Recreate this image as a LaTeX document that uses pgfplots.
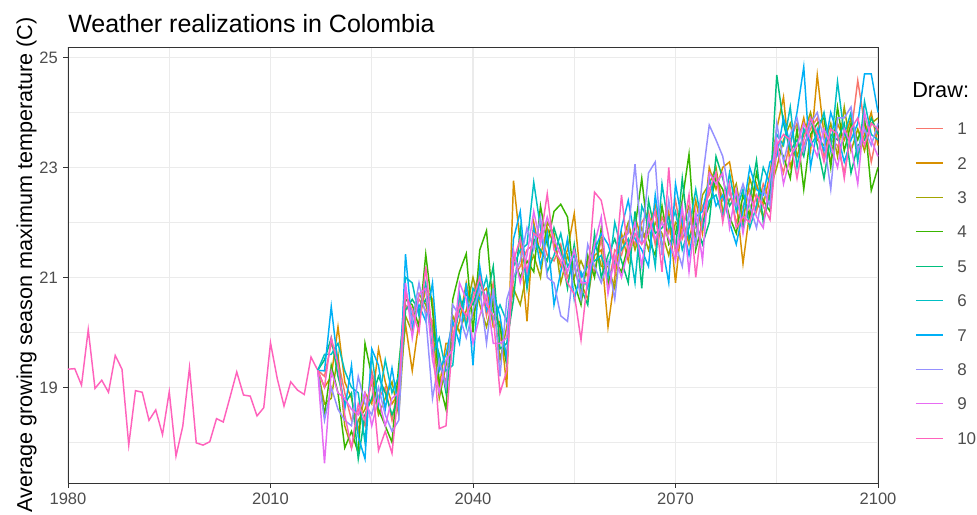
\documentclass[border=0pt]{standalone}
\usepackage{fontspec}
\setmainfont{Liberation Sans}
\usepackage{pgfplots}
\usepackage{pgfplotstable}
\pgfplotsset{compat=1.18}

% ggplot hue palette, 10 draws
\definecolor{c1}{HTML}{F8766D}
\definecolor{c2}{HTML}{D89000}
\definecolor{c3}{HTML}{A3A500}
\definecolor{c4}{HTML}{39B600}
\definecolor{c5}{HTML}{00BF7D}
\definecolor{c6}{HTML}{00BFC4}
\definecolor{c7}{HTML}{00B0F6}
\definecolor{c8}{HTML}{9590FF}
\definecolor{c9}{HTML}{E76BF3}
\definecolor{c10}{HTML}{FF62BC}
\definecolor{gridc}{HTML}{EBEBEB}
\definecolor{txtc}{HTML}{4D4D4D}
\definecolor{framec}{HTML}{333333}

% observed series
\pgfplotstableread{
year t
1980 19.33
1981 19.34
1982 19.04
1983 20.05
1984 18.98
1985 19.13
1986 18.91
1987 19.58
1988 19.33
1989 17.95
1990 18.94
1991 18.91
1992 18.40
1993 18.59
1994 18.14
1995 18.92
1996 17.75
1997 18.29
1998 19.36
1999 17.99
2000 17.95
2001 18.01
2002 18.43
2003 18.37
2004 18.82
2005 19.28
2006 18.86
2007 18.84
2008 18.48
2009 18.63
2010 19.81
2011 19.16
2012 18.66
2013 19.10
2014 18.95
2015 18.87
2016 19.55
2017 19.31
}\hist

% projected draws
\pgfplotstableread{
year d1 d2 d3 d4 d5 d6 d7 d8 d9 d10
2017 19.31 19.31 19.31 19.31 19.31 19.31 19.31 19.31 19.31 19.31
2018 19.2 19.0 18.7 18.5 19.5 19.6 19.3 18.4 17.62 19.0
2019 19.8 19.2 18.8 19.4 19.9 19.6 20.47 19.0 19.3 19.9
2020 19.5 20.1 19.6 18.9 19.2 19.8 19.4 18.6 18.9 19.4
2021 18.9 19.1 18.3 17.9 18.7 19.3 18.6 18.4 18.8 18.5
2022 18.4 18.8 17.9 18.2 18.9 19.0 19.4 18.3 18.6 17.9
2023 18.6 18.2 18.4 17.8 17.7 18.9 18.1 19.2 18.5 18.7
2024 18.3 18.9 18.6 19.8 18.5 18.0 17.7 18.7 18.9 18.4
2025 19.3 18.7 19.1 19.2 18.8 19.6 19.7 18.5 18.3 19.2
2026 18.8 19.7 18.5 18.6 19.2 18.7 19.4 19.0 18.8 17.85
2027 19.0 19.1 18.8 18.3 18.9 19.5 18.6 18.5 18.3 18.2
2028 18.4 18.7 19.1 18.0 18.5 18.9 19.35 18.2 18.8 17.8
2029 19.1 18.9 18.5 19.4 18.8 19.2 18.6 18.4 18.9 19.0
2030 20.5 20.15 20.3 20.6 20.4 21.0 21.42 20.8 20.9 20.7
2031 20.3 19.3 20.0 20.5 20.6 20.9 20.1 20.2 19.9 20.4
2032 20.6 20.2 20.7 20.1 20.4 20.3 20.5 20.9 20.7 20.0
2033 20.4 20.8 20.5 21.42 20.6 20.9 20.2 20.3 20.8 21.2
2034 20.2 20.6 20.1 20.4 20.0 19.6 20.9 18.8 19.5 19.9
2035 19.4 19.0 18.8 19.1 19.6 19.9 19.3 19.5 18.9 18.25
2036 19.1 19.8 19.4 18.6 18.9 19.3 19.6 19.0 19.5 18.3
2037 20.1 19.8 20.3 20.6 19.9 19.4 20.2 20.5 19.7 19.9
2038 20.6 20.2 20.0 21.1 20.4 20.7 19.8 20.3 20.9 20.5
2039 20.2 20.9 20.4 21.43 20.7 20.1 20.9 19.9 20.6 20.3
2040 20.7 20.3 21.0 20.0 20.5 20.8 19.4 20.4 19.8 20.6
2041 21.1 20.7 20.5 21.5 20.9 20.6 21.2 20.8 20.3 21.0
2042 20.3 20.8 20.1 21.85 20.6 21.0 20.4 19.8 20.7 20.5
2043 20.9 20.1 20.6 20.4 21.2 20.2 20.7 20.8 19.8 20.3
2044 19.9 20.2 19.5 20.1 19.7 20.5 20.3 19.2 19.8 18.9
2045 19.6 19.0 20.1 19.4 19.8 20.2 19.5 20.6 19.9 19.3
2046 21.0 22.76 20.8 21.4 20.6 21.2 21.7 21.0 21.5 21.3
2047 21.2 21.6 20.5 21.0 21.9 21.5 22.2 21.3 20.9 21.7
2048 21.5 20.2 21.1 21.3 20.8 21.6 20.9 21.9 21.4 21.1
2049 21.6 22.0 21.4 21.1 21.7 22.73 21.9 21.5 22.2 21.8
2050 21.8 21.4 21.0 22.3 21.5 21.9 21.2 22.1 21.6 21.7
2051 21.4 21.9 22.0 21.6 21.3 21.1 21.8 21.0 22.1 22.52
2052 21.3 21.6 21.8 22.2 21.9 21.4 20.5 20.9 21.7 21.5
2053 21.6 21.2 20.9 22.33 21.5 21.8 21.1 20.3 21.4 21.3
2054 21.0 21.5 21.4 22.1 20.8 21.2 21.7 20.2 21.1 20.9
2055 21.2 22.16 21.0 20.9 21.6 21.4 20.6 21.3 21.5 20.7
2056 20.7 20.9 21.3 20.5 20.8 21.0 21.1 20.6 20.9 19.86
2057 21.3 20.6 21.0 21.4 20.5 21.2 20.8 21.6 20.9 21.0
2058 21.1 21.4 21.7 21.0 21.8 21.3 21.5 21.2 21.6 22.55
2059 21.7 21.5 21.2 21.9 21.0 21.4 21.8 20.9 22.1 22.4
2060 20.8 20.1 21.2 20.9 21.4 21.0 21.6 21.3 20.7 21.8
2061 21.5 21.0 20.8 21.3 21.7 22.0 21.2 20.6 21.4 21.1
2062 21.4 21.8 21.6 21.1 21.3 21.5 21.9 21.7 21.0 22.5
2063 21.9 21.3 22.0 21.6 20.9 21.7 22.4 21.8 21.5 21.4
2064 21.6 22.1 21.5 21.9 22.2 20.9 21.7 23.06 22.0 21.8
2065 22.0 21.7 21.9 22.8 20.8 22.3 21.5 21.6 21.2 21.6
2066 22.2 21.9 21.5 21.7 22.4 22.0 21.2 22.9 22.1 21.8
2067 21.6 22.3 22.0 21.4 21.8 21.2 22.5 23.1 21.7 22.2
2068 22.1 21.5 21.8 22.3 21.9 22.7 21.6 21.4 22.0 21.1
2069 21.8 22.2 21.4 21.6 22.1 21.9 20.9 22.4 21.7 23.0
2070 22.4 20.9 22.0 21.8 21.5 22.2 22.7 21.6 21.3 21.4
2071 21.7 22.1 21.9 22.4 22.8 21.5 22.0 21.2 22.3 21.8
2072 22.0 21.6 22.3 23.24 21.7 21.9 21.4 22.2 21.1 22.5
2073 21.9 22.4 21.7 21.5 22.0 22.6 22.1 21.6 22.2 21.0
2074 22.3 21.8 22.5 22.0 21.6 21.9 22.2 22.8 21.3 22.1
2075 22.5 23.0 22.7 22.3 22.0 22.4 22.8 23.77 22.9 22.6
2076 22.9 22.6 23.0 22.8 23.2 22.5 22.3 23.5 22.7 22.9
2077 22.4 23.0 22.2 22.6 22.8 22.1 22.5 23.2 22.9 22.0
2078 22.6 23.1 22.4 22.1 22.3 22.9 22.0 22.5 21.9 22.7
2079 22.0 22.4 22.7 21.8 22.5 22.2 21.6 22.3 22.6 21.9
2080 22.3 21.25 22.0 22.5 21.9 22.6 22.2 22.7 21.8 22.1
2081 22.6 22.2 22.8 22.1 22.4 21.9 23.0 22.3 22.5 22.0
2082 22.2 22.7 22.4 22.9 23.13 22.3 22.6 21.9 22.1 22.5
2083 22.7 22.3 22.1 22.4 22.0 23.0 22.5 22.6 21.9 22.3
2084 22.4 22.9 22.6 22.2 22.5 22.7 23.1 22.3 22.8 22.05
2085 23.3 23.7 23.0 23.4 24.68 23.6 23.2 23.8 23.5 23.4
2086 22.9 24.28 23.5 23.2 23.8 23.4 23.9 23.1 22.7 23.6
2087 23.5 23.0 23.8 22.8 23.3 24.1 23.4 23.6 23.2 23.5
2088 23.8 23.4 23.2 23.7 23.5 23.0 24.0 23.9 23.4 22.8
2089 23.4 23.9 23.6 22.6 23.2 23.7 24.83 23.3 23.8 23.5
2090 23.7 23.3 24.0 23.6 23.9 23.4 23.0 23.8 23.5 23.9
2091 23.9 24.68 23.5 23.8 23.4 23.6 23.7 24.0 23.2 23.6
2092 23.2 23.6 23.4 23.9 22.8 24.0 23.3 23.5 23.7 23.1
2093 23.5 23.1 23.8 23.0 23.6 23.3 24.0 22.6 23.4 23.7
2094 23.4 23.8 23.2 24.1 23.5 24.56 23.6 23.9 23.0 23.6
2095 22.9 23.5 24.1 23.3 23.8 23.6 23.1 23.9 23.7 22.8
2096 23.6 23.9 23.3 23.8 22.9 24.0 23.5 24.1 23.4 23.7
2097 24.58 23.2 23.7 23.5 23.4 23.1 23.8 23.3 22.7 23.9
2098 23.8 23.6 23.3 23.9 23.5 24.2 24.7 23.7 24.0 23.4
2099 23.1 24.0 23.8 22.58 23.9 23.6 24.7 23.4 23.5 23.8
2100 23.7 23.4 23.9 23.0 23.6 23.5 24.0 23.8 23.2 23.7
}\draws

\begin{document}
\begin{tikzpicture}
\useasboundingbox (0pt,0pt) rectangle (732.75pt,-385.5pt);
\begin{axis}[
  at={(51pt,-362.25pt)}, anchor=south west,
  scale only axis, width=607.5pt, height=327pt,
  clip=false,
  xmin=1980, xmax=2100, ymin=17.26, ymax=25.19,
  xtick={1980,2010,2040,2070,2100},
  ytick={19,21,23,25},
  minor xtick={1995,2025,2055,2085},
  minor ytick={18,20,22,24},
  grid=both,
  major grid style={gridc, line width=0.9pt},
  minor grid style={gridc, line width=0.45pt},
  axis line style={framec, line width=0.6pt},
  tick align=outside,
  major tick length=3.5pt, minor tick length=0pt,
  tick style={framec, line width=0.6pt},
  xtick pos=bottom, ytick pos=left,
  /pgf/number format/assume math mode=true,
  xticklabel style={/pgf/number format/set thousands separator={}, text=txtc, font=\fontsize{12.4}{14}\selectfont, inner sep=0pt, yshift=-4pt},
  yticklabel style={text=txtc, font=\fontsize{12.4}{14}\selectfont, inner sep=0pt, xshift=-4pt},
  ylabel={Average growing season maximum temperature (C)},
  every axis y label/.style={at={(axis description cs:-0.0444,0.5)}, rotate=90, anchor=base, font=\fontsize{16.2}{18}\selectfont},
  legend cell align=left,
  legend style={at={(axis description cs:1.0457,0.8276)}, anchor=north west, draw=none, fill=none, inner sep=0pt,
    row sep=16.6pt, font=\fontsize{12.75}{14}\selectfont, text=txtc,
    nodes={inner sep=0pt, text height=9.2pt, text depth=0pt},
    /tikz/every odd column/.append style={column sep=10.5pt}},
  legend image code/.code={\draw[#1, line width=1pt] (0pt,0pt) -- (20pt,0pt);},
  every axis plot/.append style={line width=1.1pt, mark=none},
]
\addplot[c10, forget plot] table[x=year, y=t] {\hist};
\addplot[c1] table[x=year, y=d1] {\draws}; \addlegendentry{1}
\addplot[c2] table[x=year, y=d2] {\draws}; \addlegendentry{2}
\addplot[c3] table[x=year, y=d3] {\draws}; \addlegendentry{3}
\addplot[c4] table[x=year, y=d4] {\draws}; \addlegendentry{4}
\addplot[c5] table[x=year, y=d5] {\draws}; \addlegendentry{5}
\addplot[c6] table[x=year, y=d6] {\draws}; \addlegendentry{6}
\addplot[c7] table[x=year, y=d7] {\draws}; \addlegendentry{7}
\addplot[c8] table[x=year, y=d8] {\draws}; \addlegendentry{8}
\addplot[c9] table[x=year, y=d9] {\draws}; \addlegendentry{9}
\addplot[c10] table[x=year, y=d10] {\draws}; \addlegendentry{10}
\node[anchor=base west, font=\fontsize{18.75}{21}\selectfont, inner sep=0pt] at (rel axis cs:0,1.0344) {Weather realizations in Colombia};
\node[anchor=base west, font=\fontsize{16.3}{18}\selectfont, inner sep=0pt] at (rel axis cs:1.042,0.885) {Draw:};
\end{axis}
\end{tikzpicture}
\end{document}
